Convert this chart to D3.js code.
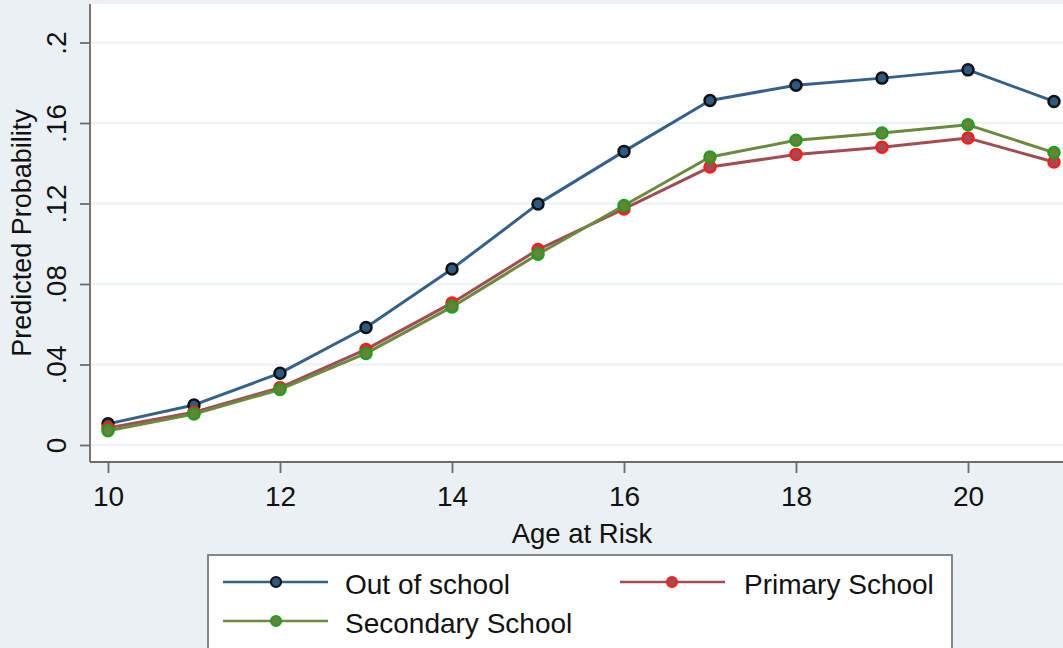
<!DOCTYPE html>
<html>
<head>
<meta charset="utf-8">
<script src="https://cdn.jsdelivr.net/npm/d3@7"></script>
<style>
  html, body { margin: 0; padding: 0; background: #eaf0f3; }
  svg { display: block; }
  text { font-family: "Liberation Sans", Arial, sans-serif; fill: #111; }
</style>
</head>
<body>
<svg id="chart" width="1063" height="648"></svg>
<script>
// ---- data ----
const ages = [10, 11, 12, 13, 14, 15, 16, 17, 18, 19, 20, 21];
const outOfSchool = [0.0105, 0.0199, 0.0357, 0.0584, 0.0875, 0.1198, 0.1459, 0.1712, 0.1788, 0.1823, 0.1864, 0.1707];
const primarySchool = [0.0085, 0.0163, 0.0285, 0.0475, 0.0706, 0.0971, 0.1173, 0.1381, 0.1444, 0.1480, 0.1525, 0.1406];
const secondarySchool = [0.0071, 0.0154, 0.0276, 0.0455, 0.0686, 0.0948, 0.1190, 0.1431, 0.1514, 0.1550, 0.1591, 0.1453];
const xTicks = [10, 12, 14, 16, 18, 20];
const yTicks = [0, 0.04, 0.08, 0.12, 0.16, 0.2];
const yTickLabels = ["0", ".04", ".08", ".12", ".16", ".2"];
const seriesNames = ["Out of school", "Primary School", "Secondary School"];
const xTitle = "Age at Risk";
const yTitle = "Predicted Probability";

// ---- styles ----
const seriesStyle = [
  { line: "#33618c", fill: "#2b5a85", stroke: "#111111" },
  { line: "#a24b53", fill: "#a04c55", stroke: "#ff1a1a" },
  { line: "#6a8a3c", fill: "#6b803b", stroke: "#1ea01e" }
];
const seriesData = [outOfSchool, primarySchool, secondarySchool];

const svg = d3.select("#chart");
const plot = { left: 90, top: 4, right: 1080, bottom: 462 };

const x = d3.scaleLinear().domain([10, 20]).range([108, 968]);
const y = d3.scaleLinear().domain([0, 0.2]).range([445, 42.5]);

// background
svg.append("rect").attr("x", 0).attr("y", 0).attr("width", 1063).attr("height", 648).attr("fill", "#eaf0f3");
svg.append("rect").attr("x", plot.left).attr("y", plot.top)
  .attr("width", plot.right - plot.left).attr("height", plot.bottom - plot.top).attr("fill", "#ffffff");

// gridlines
svg.append("g").selectAll("line").data(yTicks).join("line")
  .attr("x1", plot.left).attr("x2", plot.right)
  .attr("y1", d => y(d)).attr("y2", d => y(d))
  .attr("stroke", "#edf2f5").attr("stroke-width", 2.5);

// y axis
const yAxis = d3.axisLeft(y).tickValues(yTicks).tickSize(10).tickPadding(0)
  .tickFormat((d, i) => yTickLabels[i]);
const gy = svg.append("g").attr("transform", `translate(${plot.left},0)`).call(yAxis);
gy.select(".domain").attr("d", `M0,${plot.top}V${plot.bottom}`).attr("stroke", "#6a6a6a").attr("stroke-width", 1.8);
gy.selectAll(".tick line").attr("stroke", "#6a6a6a").attr("stroke-width", 1.8);
gy.selectAll(".tick text")
  .attr("font-size", 28).attr("fill", "#111")
  .attr("text-anchor", "middle")
  .attr("x", 0).attr("y", 0).attr("dy", null)
  .attr("transform", "translate(-24,0) rotate(-90)");

// x axis
const xAxis = d3.axisBottom(x).tickValues(xTicks).tickSize(11).tickPadding(0).tickFormat(d3.format("d"));
const gx = svg.append("g").attr("transform", `translate(0,${plot.bottom})`).call(xAxis);
gx.select(".domain").attr("d", `M${plot.left},0H${plot.right}`).attr("stroke", "#6a6a6a").attr("stroke-width", 1.8);
gx.selectAll(".tick line").attr("stroke", "#6a6a6a").attr("stroke-width", 1.8);
gx.selectAll(".tick text").attr("font-size", 28).attr("fill", "#111")
  .attr("y", 44).attr("dy", null);

// axis titles
svg.append("text").attr("x", 582).attr("y", 543).attr("text-anchor", "middle")
  .attr("font-size", 27.5).text(xTitle);
svg.append("text").attr("transform", "translate(31,233) rotate(-90)").attr("text-anchor", "middle")
  .attr("font-size", 27).text(yTitle);

// series
const line = d3.line().x((d, i) => x(ages[i])).y(d => y(d));
seriesData.forEach((vals, k) => {
  const st = seriesStyle[k];
  const g = svg.append("g");
  g.append("path").attr("d", line(vals)).attr("fill", "none")
    .attr("stroke", st.line).attr("stroke-width", 3).attr("stroke-linejoin", "round");
  g.selectAll("circle").data(vals).join("circle")
    .attr("cx", (d, i) => x(ages[i])).attr("cy", d => y(d)).attr("r", 5.5)
    .attr("fill", st.fill).attr("stroke", st.stroke).attr("stroke-width", 2.5);
});

// legend
const lg = svg.append("g");
lg.append("rect").attr("x", 208).attr("y", 555).attr("width", 744).attr("height", 120)
  .attr("fill", "#ffffff").attr("stroke", "#7a7a7a").attr("stroke-width", 1.8);
const legendPos = [
  { lx1: 223, lx2: 328, mx: 276, tx: 345, ly: 582, ty: 594 },
  { lx1: 620, lx2: 725, mx: 672, tx: 744, ly: 582, ty: 594 },
  { lx1: 223, lx2: 328, mx: 276, tx: 345, ly: 621, ty: 633 }
];
seriesNames.forEach((name, k) => {
  const p = legendPos[k], st = seriesStyle[k];
  lg.append("line").attr("x1", p.lx1).attr("x2", p.lx2).attr("y1", p.ly).attr("y2", p.ly)
    .attr("stroke", st.line).attr("stroke-width", 2.6);
  lg.append("circle").attr("cx", p.mx).attr("cy", p.ly).attr("r", 5)
    .attr("fill", st.fill).attr("stroke", st.stroke).attr("stroke-width", 2.2);
  lg.append("text").attr("x", p.tx).attr("y", p.ty).attr("font-size", 28).text(name);
});
</script>
</body>
</html>
